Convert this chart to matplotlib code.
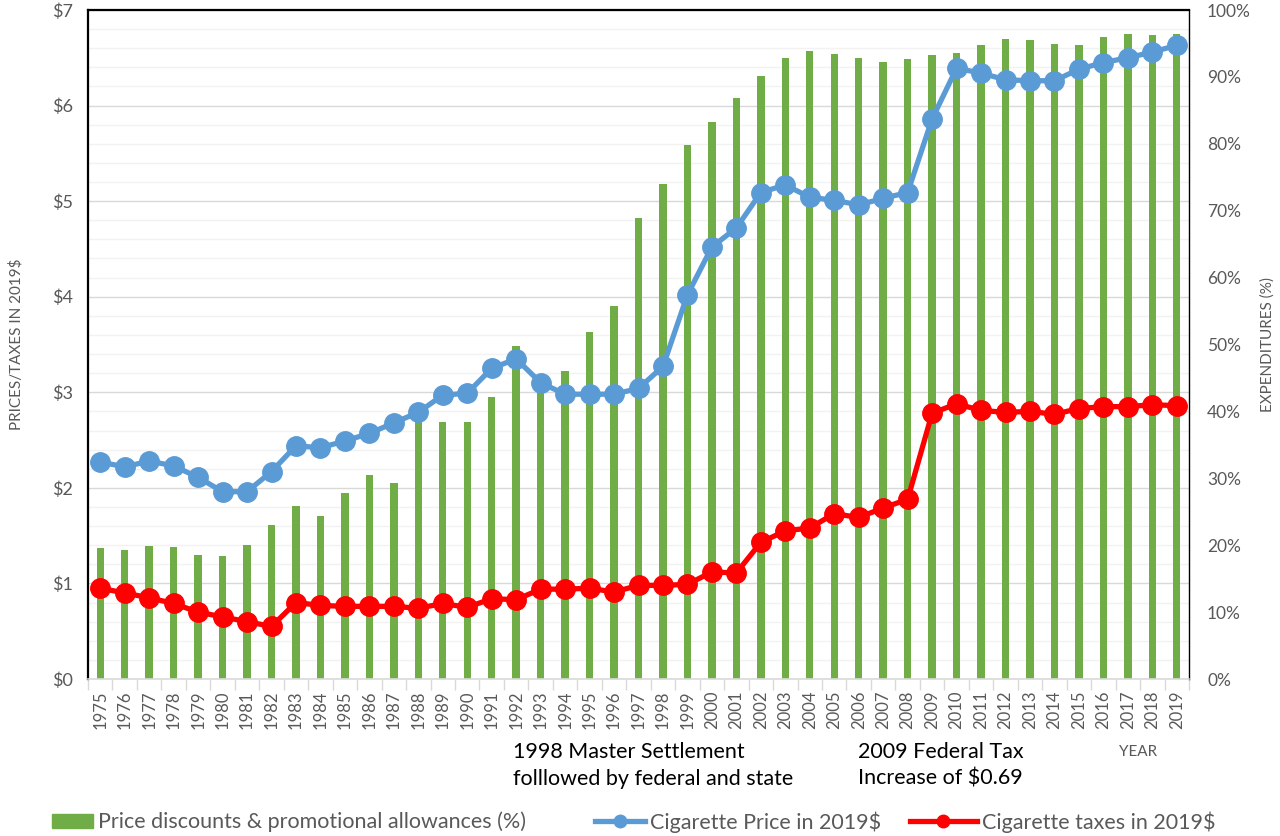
import matplotlib.pyplot as plt
from matplotlib.ticker import MultipleLocator, FuncFormatter
from matplotlib.lines import Line2D
from matplotlib.patches import Patch
import numpy as np

plt.rcParams['font.family'] = ['Lato', 'DejaVu Sans']

years = list(range(1975, 2020))

# price discounts & promotional allowances, % of expenditures
discounts = [19.6, 19.3, 19.9, 19.7, 18.5, 18.4, 20.0, 23.0, 25.9, 24.4,
             27.8, 30.5, 29.3, 38.4, 38.4, 38.4, 42.2, 49.8, 44.0, 46.0,
             51.9, 55.8, 68.9, 74.0, 79.8, 83.3, 86.8, 90.1, 92.8, 93.8,
             93.4, 92.8, 92.2, 92.7, 93.3, 93.6, 94.8, 95.7, 95.5, 94.9,
             94.8, 96.0, 96.4, 96.3, 96.4]

# cigarette price in 2019$
price = [2.27, 2.22, 2.28, 2.23, 2.11, 1.96, 1.96, 2.17, 2.44, 2.42,
         2.49, 2.57, 2.68, 2.79, 2.97, 2.99, 3.25, 3.35, 3.10, 2.98,
         2.98, 2.98, 3.04, 3.27, 4.02, 4.52, 4.72, 5.09, 5.17, 5.04,
         5.01, 4.96, 5.03, 5.09, 5.86, 6.39, 6.34, 6.27, 6.26, 6.26,
         6.38, 6.45, 6.50, 6.56, 6.63]

# cigarette taxes in 2019$
taxes = [0.95, 0.90, 0.85, 0.79, 0.70, 0.65, 0.60, 0.55, 0.80, 0.77,
         0.76, 0.76, 0.76, 0.74, 0.79, 0.75, 0.84, 0.83, 0.94, 0.94,
         0.95, 0.91, 0.98, 0.98, 0.99, 1.12, 1.11, 1.43, 1.55, 1.58,
         1.73, 1.69, 1.79, 1.88, 2.78, 2.88, 2.81, 2.79, 2.80, 2.77,
         2.83, 2.85, 2.85, 2.87, 2.86]

GREEN = '#70ad47'
BLUE = '#5b9bd5'
RED = '#ff0000'
GRAY = '#595959'

x = np.arange(len(years))

fig = plt.figure(figsize=(12.8, 8.36), dpi=100)
rect = [88 / 1280, 1 - 679 / 836, (1189 - 88) / 1280, (679 - 10) / 836]

# background axes only for the dollar gridlines
ax = fig.add_axes(rect)
axg = fig.add_axes(rect, sharex=ax, sharey=ax)
axb = ax.twinx()
axg.set_zorder(0)
axb.set_zorder(1)
ax.set_zorder(2)
ax.patch.set_visible(False)
axb.patch.set_visible(False)

ax.set_xlim(-0.5, len(years) - 0.5)
ax.set_ylim(0, 7)
ax.yaxis.set_major_locator(MultipleLocator(1))
ax.yaxis.set_minor_locator(MultipleLocator(0.2))

axg.grid(which='major', axis='y', color='#d9d9d9', lw=1)
axg.grid(which='minor', axis='y', color='#f2f2f2', lw=1)
axg.tick_params(which='both', left=False, labelleft=False, bottom=False, labelbottom=False)
for s in axg.spines.values():
    s.set_visible(False)

# bars on the percent axis
axb.bar(x, discounts, width=0.3, color=GREEN)
axb.set_ylim(0, 100)
axb.yaxis.set_major_locator(MultipleLocator(10))
axb.yaxis.set_major_formatter(FuncFormatter(lambda v, p: f'{v:.0f}%'))
axb.tick_params(axis='y', length=0, pad=13, labelsize=12.5, labelcolor=GRAY)
axb.set_ylabel('EXPENDITURES (%)', color=GRAY, fontsize=11, labelpad=7)
for s in axb.spines.values():
    s.set_visible(False)

# lines on the dollar axis
ax.plot(x, price, color=BLUE, lw=3.8, marker='o', ms=14, zorder=3)
ax.plot(x, taxes, color=RED, lw=3.8, marker='o', ms=14, zorder=3)

ax.yaxis.set_major_formatter(FuncFormatter(lambda v, p: f'${v:.0f}'))
ax.tick_params(axis='y', which='both', length=0, pad=11, labelsize=13, labelcolor=GRAY)
ax.set_ylabel('PRICES/TAXES IN 2019$', color=GRAY, fontsize=11, labelpad=20)

ax.set_xticks(x)
ax.set_xticklabels([str(y) for y in years], rotation=90)
ax.set_xticks(np.arange(len(years) + 1) - 0.5, minor=True)
ax.tick_params(axis='x', which='major', length=0, pad=8, labelsize=12, labelcolor=GRAY)
ax.tick_params(axis='x', which='minor', length=8, color='#d9d9d9', width=1)

ax.spines['left'].set_color('black')
ax.spines['left'].set_linewidth(1.6)
ax.spines['top'].set_color('black')
ax.spines['top'].set_linewidth(1.6)
ax.spines['right'].set_color('black')
ax.spines['right'].set_linewidth(1.0)
ax.spines['bottom'].set_color('#d9d9d9')
ax.spines['bottom'].set_linewidth(1.2)

fig.text(513 / 1280, 1 - 742 / 836, '1998 Master Settlement\nfolllowed by federal and state',
         fontsize=15.5, color='black', va='top', ha='left', linespacing=1.42)
fig.text(858 / 1280, 1 - 742 / 836, '2009 Federal Tax\nIncrease of $0.69',
         fontsize=15.5, color='black', va='top', ha='left', linespacing=1.42, parse_math=False)
fig.text(1119 / 1280, 1 - 752 / 836, 'YEAR', fontsize=11, color=GRAY, va='center', ha='left')

leg_kw = dict(frameon=False, fontsize=15.5, labelcolor=GRAY, loc='center left',
              handletextpad=0.25, borderaxespad=0, borderpad=0)
fig.legend(handles=[Patch(color=GREEN)], labels=['Price discounts & promotional allowances (%)'],
           bbox_to_anchor=(52 / 1280, 1 - 822 / 836), handlelength=1.9, handleheight=0.65, **leg_kw)
fig.legend(handles=[Line2D([], [], color=BLUE, lw=3.8, marker='o', ms=9)], labels=['Cigarette Price in 2019$'],
           bbox_to_anchor=(595 / 1280, 1 - 822 / 836), handlelength=2.3, **leg_kw)
fig.legend(handles=[Line2D([], [], color=RED, lw=3.8, marker='o', ms=9)], labels=['Cigarette taxes in 2019$'],
           bbox_to_anchor=(910 / 1280, 1 - 822 / 836), handlelength=3.1, **leg_kw)

fig.savefig('out.png', dpi=100, facecolor='white')
